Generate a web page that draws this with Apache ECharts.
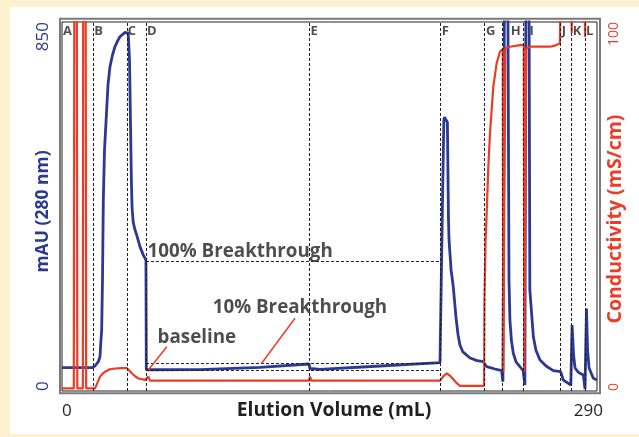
<!DOCTYPE html>
<html><head><meta charset="utf-8">
<script src="https://cdn.jsdelivr.net/npm/echarts@6/dist/echarts.min.js"></script>
<style>
html,body{margin:0;padding:0;background:#fdf1cf;overflow:hidden;}
#panel{position:absolute;left:10px;top:7px;width:629px;height:427px;background:#ffffff;}
#chart{position:absolute;left:0;top:0;width:639px;height:437px;}
</style></head>
<body><div id="panel"></div><div id="chart"></div>
<script>
// ---- data ----
const xTicks = [0, 290];
const uvTicks = [0, 850];
const condTicks = [0, 100];

const letters   = ['A','B','C','D','E','F','G','H','I','J','K','L'];
const letterPos = [0, 17.0, 35.1, 45.5, 134.1, 205.3, 228.8, 238.9, 250.1, 270.3, 276.3, 283.5];

// UV absorbance, mAU vs elution volume (mL)
const uvData = [
  [0,53.7],[16.1,53.7],[17.0,54.5],[17.9,57.6],[19.7,67.5],[20.6,79],[21.0,110],[21.5,140],
  [21.95,256],[22.4,440],[23.04,555],[24.2,647],[24.93,705],[26.0,747],[27.37,774],[28.7,793],
  [30.08,806],[31.4,816],[34.2,826],[35.1,828],[35.9,824],[36.6,762],[37.1,624],[37.6,486],
  [38.0,420],[38.6,389],[39.5,372],[40.5,359],[42.3,332],[44.1,313],[45.5,302],[45.7,49],
  [46.0,47.2],[74.8,49.1],[107.3,54.6],[133.9,62.2],[134.3,52.3],[139.9,50],[172.4,57.6],
  [204.9,65.2],[205.5,65],[206.3,450],[207.0,625],[207.3,631],[208.9,619],[209.5,394],
  [209.8,348],[210.9,279],[212.1,240],[213.6,168],[214.7,129],[215.7,106],[217.3,90],
  [221.2,76],[225.0,70],[228.4,67.5],[230.2,56],[234.7,50.7],[238.3,46.8],[239.0,21.4],
  [239.9,1000],[241.6,1000],[242.3,256],[242.8,163],[243.6,117],[244.6,87.5],[246.1,67],
  [248.2,56],[250.0,46.8],[250.9,13.8],[251.5,1000],[253.1,1000],[253.6,233],[255.5,125],
  [256.9,94],[259.1,71.4],[262.4,57.6],[266.3,46.8],[270.3,44.5],[271.7,25.3],[274.5,17.7],
  [275.8,13.8],[276.5,152],[277.3,83],[278.1,53],[279.7,44],[280.8,40.8],[282.6,36.9],
  [283.5,4.6],[284.3,190],[284.9,94],[285.7,53],[288.0,29.3],[290,25.3]
];

// Conductivity, mS/cm vs elution volume (mL)
const condData = [
  [0,0.7],[6.4,0.7],[6.7,120],[8.0,120],[8.3,0.7],[11.3,0.7],[11.5,120],[12.8,120],[13.1,0.7],
  [17.9,0.7],[19.2,2.2],[20.6,3.9],[22.0,4.7],[23.3,5.2],[26.0,5.9],[29.0,6.1],[32.4,6.2],
  [35.1,6.2],[36.4,5.6],[37.8,4.8],[39.6,4.0],[41.4,3.4],[45.0,3.0],[45.8,2.7],[46.8,3.9],
  [47.7,2.8],[133.9,2.8],[134.4,3.9],[135.2,2.8],[204.9,2.8],[206.8,4.0],[208.5,4.8],
  [210.2,4.2],[211.9,3.3],[213.8,2.2],[215.7,1.4],[228.8,1.4],[229.0,24.7],[229.6,40.9],
  [230.2,48.2],[231.1,60.8],[232.0,69.9],[233.8,82.5],[235.6,88.8],[237.4,92.0],[238.9,92.6],
  [239.2,5.2],[240.0,5.2],[240.3,92.9],[242.8,93.3],[249.2,93.8],[250.3,93.8],[250.6,5.2],
  [251.3,5.2],[251.6,92.9],[253.7,93.3],[264.5,93.3],[265.4,92.9],[267.2,93.6],[269.9,94.2],
  [270.3,94.6],[270.5,120],[276.1,120],[276.3,97.0],[276.5,120],[283.3,120],[283.5,96.0],
  [283.7,120],[290,120]
];

// horizontal reference levels (mAU), drawn between fraction lines D and F
const levelNames  = ['100%', '10%', 'baseline'];
const levelValues = [298, 63, 47];

// annotation texts: [x (mL), y (mAU)]
const noteTexts = ['100% Breakthrough', '10% Breakthrough', 'baseline'];
const noteAt    = [[46.4, 320], [81.7, 191], [51.8, 122]];
// pointer lines: from [x,y] to [x,y]
const pointerFrom = [[126.3, 167.5], [56.8, 102]];
const pointerTo   = [[108.2, 63.8], [46.8, 48.4]];

// ---- styles ----
const BLUE = '#2b3990', RED = '#ee3b26', INK = '#231f20';
const FONT = 'Open Sans';
const letterShift = {G: 2, H: 8, I: 6};

const D = letterPos[letters.indexOf('D')];
const F = letterPos[letters.indexOf('F')];

const chart = echarts.init(document.getElementById('chart'), null, {renderer: 'canvas'});

const vLines = letters.slice(1).map((l, i) => ({xAxis: letterPos[i + 1]}));
const hLines = levelValues.map(v => [{coord: [D, v]}, {coord: [F, v]}]);
const pLines = pointerFrom.map((p, i) => [{coord: p}, {coord: pointerTo[i]}]);

chart.setOption({
  animation: false,
  backgroundColor: 'transparent',
  textStyle: {fontFamily: FONT},
  grid: {left: 62, right: 42, top: 22, bottom: 46, show: true, borderColor: INK, borderWidth: 1,
         containLabel: false, outerBoundsMode: 'none'},
  graphic: [{type: 'rect', shape: {x: 60, y: 18.7, width: 540, height: 374.6},
             style: {fill: 'none', stroke: '#7a7a7a', lineWidth: 2}, silent: true, z: -1}],
  xAxis: {
    type: 'value', min: xTicks[0], max: xTicks[1], interval: xTicks[1] - xTicks[0],
    axisLine: {show: false}, axisTick: {show: false}, splitLine: {show: false},
    axisLabel: {color: INK, fontSize: 17, fontFamily: FONT, margin: 12,
                alignMinLabel: 'left', alignMaxLabel: 'right',
                formatter: v => v === xTicks[1] ? '{r|' + v + '}' : String(v),
                rich: {r: {fontSize: 17, fontFamily: FONT, color: INK, padding: [0, -6, 0, 0]}}},
    name: 'Elution Volume (mL)', nameLocation: 'middle', nameGap: 10, nameMoveOverlap: false,
    nameTextStyle: {color: INK, fontSize: 19.3, fontWeight: 'bold', fontFamily: FONT, padding: [0, 0, 0, 9]}
  },
  yAxis: [{
    type: 'value', position: 'left', min: uvTicks[0], max: uvTicks[1], interval: uvTicks[1] - uvTicks[0],
    axisLine: {show: false}, axisTick: {show: false}, splitLine: {show: false},
    axisLabel: {color: BLUE, fontSize: 17, fontFamily: FONT, rotate: 90, margin: 10,
                alignMinLabel: 'left', alignMaxLabel: 'right'},
    name: 'mAU (280 nm)', nameLocation: 'middle', nameRotate: 90, nameGap: 10, nameMoveOverlap: false,
    nameTextStyle: {color: BLUE, fontSize: 17.5, fontWeight: 'bold', fontFamily: FONT, padding: [0, 10, 0, 0]}
  }, {
    type: 'value', position: 'right', min: condTicks[0], max: condTicks[1], interval: condTicks[1] - condTicks[0],
    axisLine: {show: false}, axisTick: {show: false}, splitLine: {show: false},
    axisLabel: {color: RED, fontSize: 14, fontFamily: FONT, rotate: 90, margin: 10,
                alignMinLabel: 'left', alignMaxLabel: 'right'},
    name: 'Conductivity (mS/cm)', nameLocation: 'middle', nameRotate: 90, nameGap: 8, nameMoveOverlap: false,
    nameTextStyle: {color: RED, fontSize: 19.5, fontWeight: 'bold', fontFamily: FONT, padding: [0, 25, 0, 0]}
  }],
  series: [{
    name: 'UV', type: 'line', yAxisIndex: 0, data: uvData, showSymbol: false, symbol: 'none',
    lineStyle: {color: BLUE, width: 2.8}, z: 3,
    markLine: {silent: true, symbol: 'none', label: {show: false},
               lineStyle: {color: INK, width: 1, type: [3, 2]},
               data: vLines.concat(hLines)}
  }, {
    name: 'Conductivity', type: 'line', yAxisIndex: 1, data: condData, showSymbol: false, symbol: 'none',
    lineStyle: {color: RED, width: 2.2}, z: 4
  }, {
    name: 'letters', type: 'scatter', yAxisIndex: 0, symbolSize: 0, clip: false, silent: true, z: 6,
    data: letters.map((l, i) => ({name: l, value: [letterPos[i], uvTicks[1]],
      label: {offset: [letterShift[l] || 1, 9]}})),
    label: {show: true, formatter: '{b}', position: 'right', distance: 0,
            color: INK, fontSize: 13, fontWeight: 'bold', fontFamily: FONT}
  }, {
    name: 'notes', type: 'scatter', yAxisIndex: 0, symbolSize: 0, clip: false, silent: true, z: 6,
    data: noteTexts.map((t, i) => ({name: t, value: noteAt[i]})),
    label: {show: true, formatter: '{b}', position: 'right', distance: 0,
            color: INK, fontSize: 18.8, fontWeight: 'bold', fontFamily: FONT},
    markLine: {silent: true, symbol: 'none', label: {show: false},
               lineStyle: {color: RED, width: 1.5, type: 'solid'}, data: pLines}
  }]
});
</script>
</body></html>
